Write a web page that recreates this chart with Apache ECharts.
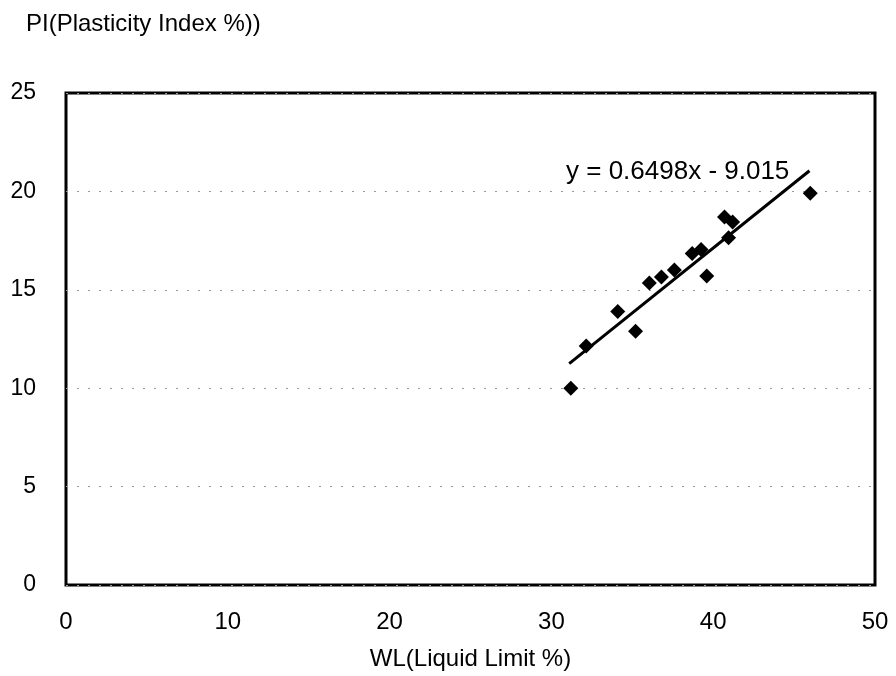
<!DOCTYPE html>
<html><head><meta charset="utf-8">
<script src="https://cdn.jsdelivr.net/npm/echarts@6/dist/echarts.min.js"></script>
<style>html,body{margin:0;padding:0;background:#fff}#c{width:896px;height:676px}</style>
</head><body><div id="c"></div>
<script>
const wl = [31.2, 32.15, 34.1, 35.2, 36.05, 36.8, 37.6, 38.7, 39.25, 39.6, 40.7, 41.2, 40.95, 46.0];
const pi = [10.0, 12.15, 13.9, 12.9, 15.35, 15.65, 16.0, 16.85, 17.05, 15.7, 18.7, 18.45, 17.65, 19.9];
const trendX = [31.1, 45.95];
const trendY = [11.25, 21.05];
const equation = 'y = 0.6498x - 9.015';
const xTitle = 'WL(Liquid Limit %)';
const yTitle = 'PI(Plasticity Index %))';

const font = 'Liberation Sans, Arial, sans-serif';
const chart = echarts.init(document.getElementById('c'), null, {renderer: 'canvas'});
chart.setOption({
  backgroundColor: '#fff',
  animation: false,
  title: {text: yTitle, left: 21, top: 7, textStyle: {fontFamily: font, fontSize: 24, fontWeight: 'normal', color: '#000'}},
  grid: {left: 66, right: 21, top: 93, bottom: 90, show: true, borderColor: '#000', borderWidth: 3},
  xAxis: {
    type: 'value', min: 0, max: 50, interval: 10,
    name: xTitle, nameLocation: 'middle', nameGap: 62,
    nameTextStyle: {fontFamily: font, fontSize: 24, color: '#000'},
    axisLine: {show: false}, axisTick: {show: false}, splitLine: {show: false},
    axisLabel: {fontFamily: font, fontSize: 24, color: '#000', margin: 25}
  },
  yAxis: {
    type: 'value', min: 0, max: 25, interval: 5,
    axisLine: {show: false}, axisTick: {show: false},
    splitLine: {show: true, lineStyle: {color: '#999', type: [2, 9], width: 1}},
    axisLabel: {fontFamily: font, fontSize: 23, color: '#000', margin: 30}
  },
  series: [
    {type: 'scatter', symbol: 'diamond', symbolSize: 15, itemStyle: {color: '#000', opacity: 1},
     data: wl.map((x, i) => [x, pi[i]]), z: 3},
    {type: 'line', symbol: 'none', lineStyle: {color: '#000', width: 3},
     data: trendX.map((x, i) => [x, trendY[i]]), z: 2}
  ],
  graphic: [{type: 'text', left: 566, top: 159, style: {text: equation, fontFamily: font, fontSize: 26, fill: '#000'}}]
});
</script></body></html>
